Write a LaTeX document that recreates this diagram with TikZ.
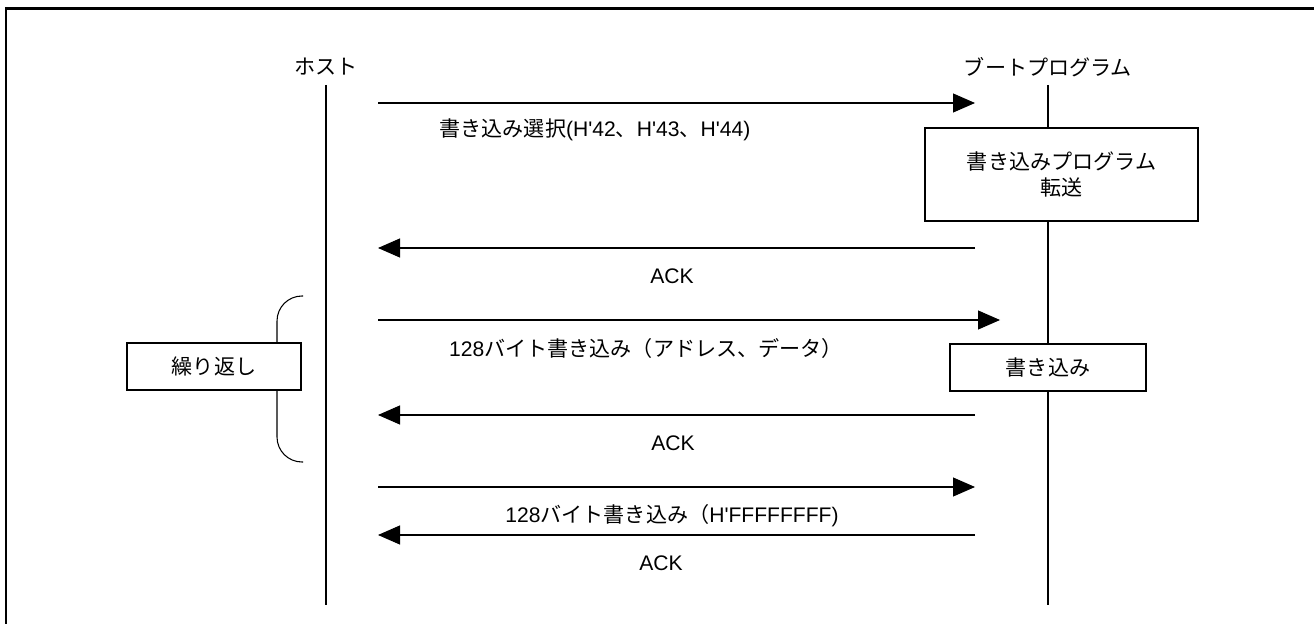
\documentclass[tikz,border=0pt]{standalone}
\usepackage{fontspec}
\setmainfont{Liberation Sans}[Ligatures=TeXOff]
\newfontfamily\jp{Noto Sans CJK JP}
\usetikzlibrary{arrows.meta}

\begin{document}
\begin{tikzpicture}[
    msg/.style={-{Triangle[length=0.44cm,width=0.38cm]}, line width=0.6pt},
    procbox/.style={draw, fill=white, line width=1.1pt, align=center, inner sep=0pt},
    lbl/.style={font=\fontsize{12}{14.5}\selectfont}
  ]
  \useasboundingbox (0,0) rectangle (26.28,-12.48);

  % frame
  \draw[line width=1.7pt] (0.12,-12.6) -- (0.12,-0.17) -- (26.4,-0.17);

  % lifelines
  \node[lbl] (host) at (6.52,-1.34) {\jp ホスト};
  \node[lbl] (boot) at (20.96,-1.34) {\jp ブートプログラム};
  \coordinate (hosttop) at (6.52,-1.7);
  \coordinate (hostend) at (6.52,-12.1);
  \coordinate (boottop) at (20.96,-1.7);
  \coordinate (bootend) at (20.96,-12.1);
  \draw[line width=0.6pt] (hosttop) -- (hostend);
  \draw[line width=0.6pt] (boottop) -- (bootend);

  % repeat bracket
  \coordinate (looptop) at (6.06,-5.92);
  \coordinate (loopbot) at (6.06,-9.24);
  \draw[line width=0.6pt, rounded corners=0.5cm] (looptop) -- (5.54,-5.92) -- (5.54,-9.24) -- (loopbot);
  \node[procbox, lbl, minimum width=3.48cm, minimum height=0.94cm] (loop) at (4.28,-7.33) {\jp 繰り返し};

  % select
  \coordinate (a1s) at (7.56,-2.06);
  \coordinate (a1e) at (19.5,-2.06);
  \draw[msg] (a1s) -- (a1e);
  \node[lbl] (m1) at (11.9,-2.6) {{\jp 書き込み選択}(H'42{\jp 、}H'43{\jp 、}H'44)};

  % transfer box
  \node[procbox, lbl, minimum width=5.46cm, minimum height=1.86cm] (xfer) at (21.23,-3.49) {\jp 書き込みプログラム\\\jp 転送};

  % ACK
  \coordinate (a2s) at (19.5,-4.96);
  \coordinate (a2e) at (7.56,-4.96);
  \draw[msg] (a2s) -- (a2e);
  \node[lbl] (m2) at (13.44,-5.52) {ACK};

  % 128 byte write
  \coordinate (a3s) at (7.56,-6.4);
  \coordinate (a3e) at (20.0,-6.4);
  \draw[msg] (a3s) -- (a3e);
  \node[lbl] (m3) at (12.92,-6.96) {128{\jp バイト書き込み（アドレス、データ）}};

  % write box
  \node[procbox, lbl, minimum width=3.92cm, minimum height=0.94cm] (wr) at (20.96,-7.35) {\jp 書き込み};

  % ACK
  \coordinate (a4s) at (19.5,-8.3);
  \coordinate (a4e) at (7.56,-8.3);
  \draw[msg] (a4s) -- (a4e);
  \node[lbl] (m4) at (13.46,-8.86) {ACK};

  % last write
  \coordinate (a5s) at (7.56,-9.74);
  \coordinate (a5e) at (19.5,-9.74);
  \draw[msg] (a5s) -- (a5e);
  \node[lbl] (m5) at (13.44,-10.32) {128{\jp バイト書き込み（}H'FFFFFFFF)};

  % ACK
  \coordinate (a6s) at (19.5,-10.7);
  \coordinate (a6e) at (7.56,-10.7);
  \draw[msg] (a6s) -- (a6e);
  \node[lbl] (m6) at (13.22,-11.26) {ACK};
\end{tikzpicture}
\end{document}
